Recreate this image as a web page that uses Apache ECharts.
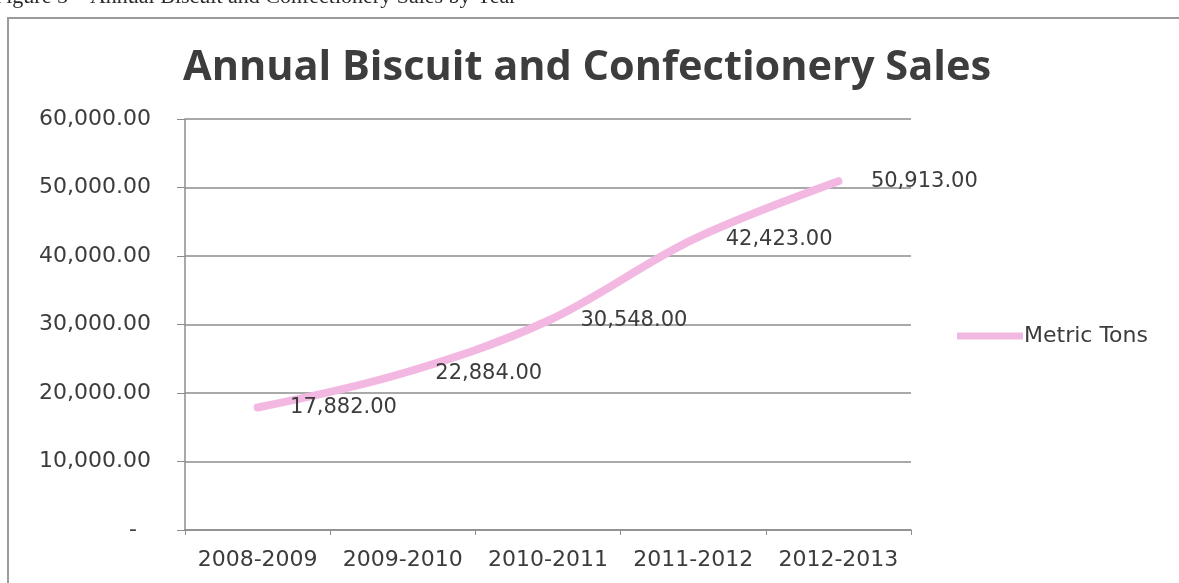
<!DOCTYPE html>
<html>
<head>
<meta charset="utf-8">
<script src="https://cdn.jsdelivr.net/npm/echarts@6/dist/echarts.min.js"></script>
<style>
html,body{margin:0;padding:0;background:#fff;}
#chart{width:1179px;height:583px;}
</style>
</head>
<body>
<div id="chart"></div>
<script>
const categories = ['2008-2009', '2009-2010', '2010-2011', '2011-2012', '2012-2013'];
const metricTons = [17882, 22884, 30548, 42423, 50913];
const seriesName = 'Metric Tons';
const chartTitle = 'Annual Biscuit and Confectionery Sales';
const captionText = 'Figure 5 \u2013 Annual Biscuit and Confectionery Sales by Year';

function fmt(v) {
  if (v === 0) return '-  ';
  return v.toLocaleString('en-US', {minimumFractionDigits: 2, maximumFractionDigits: 2});
}

const chart = echarts.init(document.getElementById('chart'), null, {renderer: 'canvas'});
const txt = '#3c3c3c';
const gridCol = '#8c8c8c';
const pink = '#f2b8e2';
chart.setOption({
  backgroundColor: '#ffffff',
  animation: false,
  graphic: [
    {type: 'rect', shape: {x: 8, y: 18, width: 1190, height: 600},
     style: {fill: 'none', stroke: '#9a9a9a', lineWidth: 2}},
    {type: 'text', left: -6, top: -14,
     style: {text: captionText, font: '22px "Liberation Serif"', fill: '#2a2a2a'}}
  ],
  title: {
    text: chartTitle, left: 178, top: 42,
    textStyle: {fontFamily: 'Open Sans', fontWeight: 'bold', fontSize: 41.5, color: '#3d3d3d'}
  },
  legend: {
    left: 952, top: 320, orient: 'vertical',
    icon: 'rect', itemWidth: 66, itemHeight: 7, itemGap: 2,
    itemStyle: {color: pink, opacity: 1},
    textStyle: {fontFamily: 'DejaVu Sans', fontSize: 22, color: txt, padding: [0,0,0,-4]},
    data: [seriesName]
  },
  grid: {left: 185, right: 268, top: 119, bottom: 53, containLabel: false},
  xAxis: {
    type: 'category', data: categories, boundaryGap: true,
    axisLine: {lineStyle: {color: gridCol, width: 1.5}},
    axisTick: {show: true, length: 5, lineStyle: {color: gridCol}},
    axisLabel: {fontFamily: 'DejaVu Sans', fontSize: 22, color: txt, margin: 19, interval: 0}
  },
  yAxis: {
    type: 'value', min: 0, max: 60000, interval: 10000,
    axisLine: {show: true, lineStyle: {color: gridCol, width: 1.5}},
    axisTick: {show: true, length: 8, lineStyle: {color: gridCol}},
    splitLine: {lineStyle: {color: gridCol, width: 1.5}},
    axisLabel: {fontFamily: 'DejaVu Sans', fontSize: 22, color: txt, margin: 34, formatter: fmt}
  },
  series: [{
    name: seriesName, type: 'line', data: metricTons,
    smooth: 0.35, symbol: 'circle', symbolSize: 3, showSymbol: true,
    lineStyle: {color: pink, width: 8, cap: 'round'},
    itemStyle: {color: pink, borderWidth: 0},
    label: {show: true, position: 'right', distance: 31,
      fontFamily: 'DejaVu Sans', fontSize: 21, color: txt,
      formatter: p => fmt(p.value)}
  }]
});
</script>
</body>
</html>
